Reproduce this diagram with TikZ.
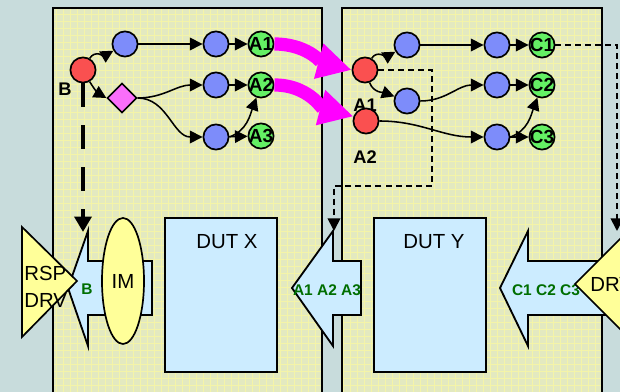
\documentclass[tikz,border=0pt]{standalone}
\usepackage{fontspec}
\setmainfont{Liberation Sans}
\usetikzlibrary{arrows.meta,shapes.geometric}

\definecolor{bgcol}{RGB}{200,220,220}
\definecolor{panelcol}{RGB}{227,233,192}
\definecolor{gridcol}{RGB}{244,244,168}
\definecolor{dotblue}{RGB}{125,140,250}
\definecolor{dotred}{RGB}{250,80,80}
\definecolor{dotgreen}{RGB}{100,240,100}
\definecolor{diapink}{RGB}{250,110,250}
\definecolor{boxblue}{RGB}{204,236,255}
\definecolor{drvyellow}{RGB}{255,255,153}
\definecolor{labgreen}{RGB}{0,110,0}
\definecolor{flowmag}{RGB}{255,0,255}

\tikzset{
  gridline/.style={draw=gridcol, line width=0.5pt},
  panelline/.style={draw=black, line width=1.4pt},
  dot/.style={circle, draw=black, line width=1.2pt, inner sep=0pt, minimum size=0.63cm},
  bluedot/.style={dot, fill=dotblue},
  reddot/.style={dot, fill=dotred},
  greendot/.style={dot, fill=dotgreen, label={[greenlab]center:#1}},
  greenlab/.style={font=\fontsize{13.5}{13.5}\selectfont\bfseries, inner sep=0pt},
  branch/.style={diamond, draw=black, line width=1.2pt, fill=diapink, inner sep=0pt, minimum size=0.74cm},
  link/.style={line width=1.1pt, -{Triangle[length=9pt,width=9pt]}},
  push/.style={draw=flowmag, line width=0.33cm, -{Triangle[length=0.85cm,width=0.85cm]}},
  tagline/.style={line width=3.5pt, dash pattern=on 0.6cm off 0.45cm, -{Triangle[length=11pt,width=12pt]}},
  hint/.style={line width=1.3pt, dash pattern=on 0.15cm off 0.1cm, -{Triangle[length=9pt,width=9pt]}},
  fatarrow/.style={draw=black, line width=1.3pt, fill=boxblue},
  drv/.style={draw=black, line width=1.2pt, fill=drvyellow},
  dut/.style={rectangle, draw=black, line width=1.4pt, fill=boxblue, minimum width=2.8cm, minimum height=3.85cm, inner sep=0pt},
  word/.style={font=\fontsize{14.5}{19}\selectfont, inner sep=0pt},
  sig/.style={font=\fontsize{11}{11}\selectfont\bfseries, text=labgreen, inner sep=0pt},
  tag/.style={font=\fontsize{13}{13}\selectfont\bfseries, inner sep=0pt},
}

% panel with its fine grid: left and right edge
\newcommand{\drawpanel}[2]{
  \fill[panelcol] (#1,-8) rectangle (#2,-400);
  \begin{scope}
    \clip (#1,-8) rectangle (#2,-400);
    \foreach \g in {0,7,...,630}
      \draw[gridline] (\g,0) -- (\g,-400) (0,-\g) -- (630,-\g);
  \end{scope}
  \draw[panelline] (#1,-8) rectangle (#2,-400);
}
% block arrow pointing left: tip, head, end of shaft
\newcommand{\blockarrow}[3]{
  \draw[fatarrow] (#1,-288) -- (#2,-231) -- (#2,-261) -- (#3,-261) --
  (#3,-315) -- (#2,-315) -- (#2,-346) -- cycle;
}

\begin{document}
\begin{tikzpicture}[x=0.025cm, y=0.025cm]
  \useasboundingbox (0,0) rectangle (620,-392);
  \clip (0,0) rectangle (620,-392);
  \fill[bgcol] (0,0) rectangle (620,-392);
  \drawpanel{53}{322}
  \drawpanel{342}{602}

  % drivers and DUTs
  \blockarrow{68}{88}{152}
  \draw[drv] (22,-227) -- (77,-281) -- (22,-337) -- cycle;
  \node[word, anchor=west, align=left] (rspdrv) at (24,-287) {RSP\\DRV};
  \node[sig] (bsig) at (87,-289) {B};
  \node[drv, ellipse, minimum width=1.05cm, minimum height=3.15cm, inner sep=0pt,
    font=\fontsize{14.5}{17}\selectfont] (im) at (123,-281) {IM};
  \node[dut] (dutx) at (221,-295) {};
  \node[word] (dutxtext) at (227,-242) {DUT X};

  \blockarrow{292}{333}{361}
  \node[sig] (asig) at (327,-290) {A1 A2 A3};
  \node[dut] (duty) at (430,-295) {};
  \node[word] (dutytext) at (434,-242) {DUT Y};

  \blockarrow{500}{528}{650}
  \node[sig] (csig) at (546,-290) {C1 C2 C3};
  \draw[drv] (575,-284) -- (622,-237) -- (669,-284) -- (622,-331) -- cycle;
  \node[word, anchor=west] (drvtext) at (590,-284) {DRV};

  % left panel graph
  \node[tag] (btag) at (65,-89) {B};
  \node[reddot] (bl) at (83,-70) {};
  \node[bluedot] (l1) at (125,-44) {};
  \node[bluedot] (l2) at (216,-44) {};
  \node[greendot=A1] (a1) at (261,-44) {};
  \node[branch] (br) at (122,-98) {};
  \node[bluedot] (l3) at (216,-85) {};
  \node[greendot=A2] (a2) at (261,-85) {};
  \node[bluedot] (l4) at (216,-137) {};
  \node[greendot=A3] (a3) at (261,-136) {};

  \draw[link] (bl) to[out=60, in=210] (l1);
  \draw[link] (bl) to[out=-60, in=150] (br.west);
  \draw[link] (l1) -- (l2);
  \draw[link] (l2) -- (a1);
  \draw[link] (br.east) to[out=0, in=180] (l3);
  \draw[link] (br.east) to[out=0, in=180] (l4);
  \draw[link] (l3) -- (a2);
  \draw[link] (l4) -- (a3);
  \draw[link] (l4.east) to[out=20, in=250] (a2);

  % right panel graph
  \node[tag] (a1tag) at (365,-105) {A1};
  \node[tag] (a2tag) at (365,-157) {A2};
  \node[reddot] (ra1) at (365,-70) {};
  \node[reddot] (ra2) at (366,-121) {};
  \node[bluedot] (r1) at (407,-45) {};
  \node[bluedot] (r2) at (497,-45) {};
  \node[greendot=C1] (c1) at (542,-45) {};
  \node[bluedot] (r3) at (407,-101) {};
  \node[bluedot] (r4) at (497,-85) {};
  \node[greendot=C2] (c2) at (542,-85) {};
  \node[bluedot] (r5) at (497,-137) {};
  \node[greendot=C3] (c3) at (542,-137) {};

  \draw[link] (ra1) to[out=60, in=210] (r1);
  \draw[link] (ra1) to[out=-70, in=160] (r3);
  \draw[link] (r1) -- (r2);
  \draw[link] (r2) -- (c1);
  \draw[link] (r3) to[out=0, in=180] (r4);
  \draw[link] (ra2) to[out=0, in=180] (r5);
  \draw[link] (r4) -- (c2);
  \draw[link] (r5) -- (c3);
  \draw[link] (r5.east) to[out=20, in=250] (c2);

  % results handed over
  \draw[push] (a1.east) to[out=0, in=165] (ra1.west);
  \draw[push] (a2.east) to[out=0, in=165] (ra2.160);

  % dashed hand-offs
  \coordinate (rspin) at (83,-232);
  \coordinate (yin) at (334,-231);
  \coordinate (drvin) at (617,-231);
  \draw[tagline] (bl.south) -- (rspin);
  \draw[hint] (ra1.east) -| (432,-186) -| (yin);
  \draw[hint] (c1.east) -| (drvin);
\end{tikzpicture}
\end{document}
